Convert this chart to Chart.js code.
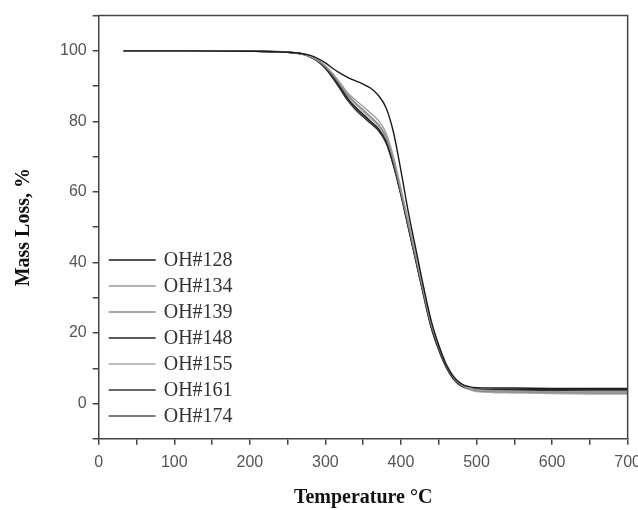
<!DOCTYPE html>
<html>
<head>
<meta charset="utf-8">
<script src="https://cdn.jsdelivr.net/npm/chart.js@4"></script>
<style>
  html, body { margin: 0; padding: 0; background: #fff; overflow: hidden; }
  #wrap { width: 649px; height: 510px; }
</style>
</head>
<body>
<div id="wrap"><canvas id="c" width="649" height="510"></canvas></div>
<script>
// temperature points (°C), shared by all samples
var temps = [33, 100, 200, 250, 270, 280, 290, 300, 310, 320, 330, 340, 350, 360, 370, 380,
             390, 400, 410, 420, 430, 440, 450, 460, 470, 480, 490, 500, 550, 600, 650, 700];

var sampleNames = ["OH#128", "OH#134", "OH#139", "OH#148", "OH#155", "OH#161", "OH#174"];
var sampleColors = ["#1a1a1a", "#9a9a9a", "#8a8a8a", "#262626", "#a8a8a8", "#333333", "#555555"];

// mass loss curves, %
var oh128 = [100,100,99.9,99.6,99.2,98.7,97.8,96.6,95,93.6,92.4,91.5,90.6,89.4,87.4,84,77,66,54,43.5,33,23.5,16.5,11,7.5,5.6,4.8,4.5,4.4,4.3,4.3,4.3];
var oh134 = [100,100,99.9,99.6,99.1,98.4,97.4,95.8,93.5,90.8,88,86,84.2,82.3,80.3,76.8,70,61,51.5,42,32,23,16.5,11.2,7.6,5.5,4.4,3.9,3.5,3.3,3.2,3.1];
var oh139 = [100,100,99.9,99.6,99.1,98.4,97.3,95.6,93.2,90.3,87.4,85.2,83.3,81.3,79.2,75.8,69,60,50.5,41,31.5,22.5,16,10.8,7.2,5.2,4.2,3.7,3.3,3.1,3.0,3.0];
var oh148 = [100,100,99.9,99.6,99.1,98.3,97.2,95.4,92.8,89.6,86.4,84,82,80,78,74.5,68,59.5,50,40.5,31,22,15.5,10.5,7,5,4.3,4.1,4.0,4.0,4.0,4.0];
var oh155 = [100,100,99.9,99.6,99.1,98.4,97.3,95.5,93,90,87,84.8,82.8,80.8,78.8,75.3,68.5,60,50.8,41.3,31.5,22.5,16,10.8,7.2,5.1,4.0,3.4,3.0,2.8,2.7,2.7];
var oh161 = [100,100,99.9,99.6,99.0,98.2,97.0,95.0,92.2,89.0,85.8,83.3,81.3,79.4,77.4,74,67.5,59,49.5,40,30.5,21.5,15.2,10.2,6.8,4.9,4.2,4.0,3.8,3.7,3.6,3.6];
var oh174 = [100,100,99.9,99.6,99.1,98.3,97.1,95.2,92.5,89.3,86.2,83.7,81.7,79.8,77.8,74.3,67.8,59.3,49.8,40.3,30.8,21.8,15.4,10.4,7.0,5.0,4.1,3.6,3.3,3.2,3.1,3.1];

var series = [oh128, oh134, oh139, oh148, oh155, oh161, oh174];

var datasets = [];
for (var i = 0; i < series.length; i++) {
  var pts = [];
  for (var j = 0; j < temps.length; j++) {
    pts.push({x: temps[j], y: series[i][j]});
  }
  datasets.push({
    label: sampleNames[i],
    data: pts,
    borderColor: sampleColors[i],
    backgroundColor: sampleColors[i],
    borderWidth: 1.4,
    pointRadius: 0,
    fill: false,
    cubicInterpolationMode: "monotone"
  });
}

var axisColor = "#444";
var tickFont = {family: "'Liberation Sans Narrow', 'Liberation Sans', Arial, sans-serif", size: 16};
var titleFont = {family: "'Liberation Serif', 'Times New Roman', serif", size: 20, weight: "bold"};

// top and right frame lines
var framePlugin = {
  id: "frame",
  afterDraw: function(chart) {
    var a = chart.chartArea, c = chart.ctx;
    c.save();
    c.strokeStyle = axisColor;
    c.lineWidth = 1.5;
    c.beginPath();
    c.moveTo(a.left, a.top);
    c.lineTo(a.right, a.top);
    c.lineTo(a.right, a.bottom);
    c.stroke();
    c.restore();
  }
};

// legend drawn inside the plot, lower left
var legendPlugin = {
  id: "insideLegend",
  afterDraw: function(chart) {
    var a = chart.chartArea, c = chart.ctx;
    var ds = chart.data.datasets;
    c.save();
    c.font = "20px 'Liberation Serif', 'Times New Roman', serif";
    c.textBaseline = "middle";
    for (var k = 0; k < ds.length; k++) {
      var yy = 260 + k * 26;
      c.strokeStyle = ds[k].borderColor;
      c.lineWidth = 1.5;
      c.beginPath();
      c.moveTo(a.left + 10, yy);
      c.lineTo(a.left + 57, yy);
      c.stroke();
      c.fillStyle = "#333";
      c.fillText(ds[k].label, a.left + 65, yy + 1);
    }
    c.restore();
  }
};

var chart = new Chart(document.getElementById("c").getContext("2d"), {
  type: "line",
  data: {datasets: datasets},
  plugins: [framePlugin, legendPlugin],
  options: {
    responsive: false,
    animation: false,
    layout: {padding: {top: 5, left: 12, right: 0, bottom: 0}},
    plugins: {legend: {display: false}, tooltip: {enabled: false}},
    scales: {
      x: {
        type: "linear",
        min: 0, max: 700,
        ticks: {
          stepSize: 50, autoSkip: false, maxRotation: 0,
          color: "#555", font: tickFont, padding: 8,
          callback: function(v) { return v % 100 === 0 ? v : ""; }
        },
        grid: {drawOnChartArea: false, drawTicks: true, tickLength: 6, color: axisColor, lineWidth: 1.5},
        border: {color: axisColor, width: 1.5},
        title: {display: true, text: "Temperature °C", color: "#111", font: titleFont, padding: {top: 6, bottom: 0}}
      },
      y: {
        min: -10, max: 110,
        ticks: {
          stepSize: 10, autoSkip: false,
          color: "#555", font: tickFont, padding: 6,
          callback: function(v) { return (v % 20 === 0 && v >= 0 && v <= 100) ? v : ""; }
        },
        grid: {drawOnChartArea: false, drawTicks: true, tickLength: 6, color: axisColor, lineWidth: 1.5},
        border: {color: axisColor, width: 1.5},
        title: {display: true, text: "Mass Loss, %", color: "#111", font: titleFont, padding: {top: 0, bottom: 18}}
      }
    }
  }
});
</script>
</body>
</html>
